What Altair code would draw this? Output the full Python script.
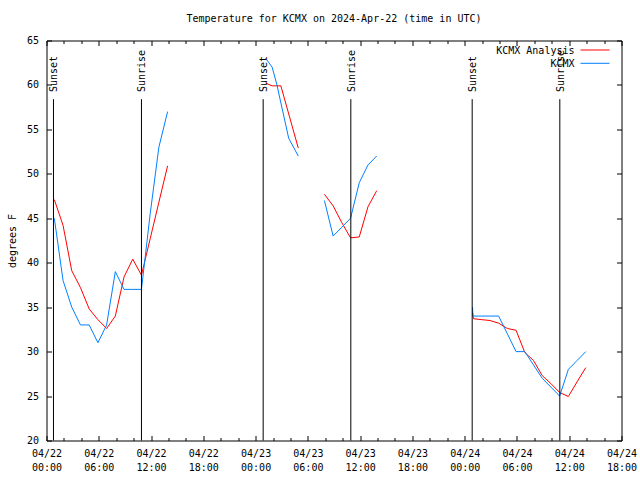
import altair as alt
import pandas as pd

FONT = "DejaVu Sans Mono"

# ---------------- data (hours since 2024-04-22 00:00 UTC, degrees F) ----------------
ana_hours_1 = [0.9, 1.9, 2.9, 3.9, 4.9, 5.9, 6.9, 7.9, 8.9, 9.9, 10.9, 11.9, 12.9, 13.9]
ana_temps_1 = [47.1, 44.2, 39.1, 37.2, 34.8, 33.6, 32.6, 34.0, 38.4, 40.4, 38.6, 42.7, 46.8, 50.9]
ana_hours_2 = [25.15, 25.9, 26.9, 27.9, 28.9]
ana_temps_2 = [60.2, 59.9, 59.9, 56.4, 52.9]
ana_hours_3 = [31.9, 32.9, 33.9, 34.9, 35.9, 36.9, 37.9]
ana_temps_3 = [47.7, 46.4, 44.5, 42.8, 42.9, 46.3, 48.1]
ana_hours_4 = [48.9, 49.0, 49.9, 50.9, 51.9, 52.9, 53.9, 54.9, 55.9, 56.9, 57.9, 58.9, 59.9, 60.9, 61.9]
ana_temps_4 = [34.4, 33.7, 33.6, 33.5, 33.2, 32.6, 32.4, 29.9, 29.0, 27.3, 26.4, 25.4, 24.95, 26.6, 28.2]

obs_hours_1 = [0.9, 1.9, 2.9, 3.9, 4.9, 5.9, 6.9, 7.9, 8.9, 9.9, 10.9, 11.9, 12.9, 13.9]
obs_temps_1 = [45, 38, 35, 33, 33, 31, 33, 39, 37, 37, 37, 45.5, 53, 57]
obs_hours_2 = [25.15, 25.9, 26.45, 27.8, 28.9]
obs_temps_2 = [63, 62, 60, 54, 52]
obs_hours_3 = [31.9, 32.9, 33.9, 34.9, 35.9, 36.9, 37.9]
obs_temps_3 = [47, 43, 44, 45, 49, 51, 52]
obs_hours_4 = [48.9, 48.95, 49.9, 50.9, 51.9, 52.9, 53.9, 54.9, 55.9, 56.9, 57.9, 58.9, 59.9, 60.9, 61.9]
obs_temps_4 = [35, 34, 34, 34, 34, 32, 30, 30, 28.5, 27, 26, 25, 28, 29, 30]

event_hours = [0.8, 10.9, 24.87, 34.93, 48.86, 58.92]
event_names = ["Sunset", "Sunrise", "Sunset", "Sunrise", "Sunset", "Sunrise"]

legend_labels = ["KCMX Analysis", "KCMX"]
series_colors = ["#ff0000", "#0080ff"]

x_major = list(range(0, 67, 6))
x_minor = [v for v in range(0, 67, 2) if v % 6]
y_ticks = list(range(20, 66, 5))

title_text = "Temperature for KCMX on 2024-Apr-22 (time in UTC)"
y_title = "degrees F"


def long(segs):
    rows = []
    for i, (hs, ts) in enumerate(segs):
        for h, t in zip(hs, ts):
            rows.append({"hour": h, "temp": t, "seg": i})
    return pd.DataFrame(rows)


ana_df = long([(ana_hours_1, ana_temps_1), (ana_hours_2, ana_temps_2),
               (ana_hours_3, ana_temps_3), (ana_hours_4, ana_temps_4)])
obs_df = long([(obs_hours_1, obs_temps_1), (obs_hours_2, obs_temps_2),
               (obs_hours_3, obs_temps_3), (obs_hours_4, obs_temps_4)])
ev_df = pd.DataFrame({"hour": event_hours, "name": event_names})

xs = alt.Scale(domain=[0, 66], nice=False, zero=False)
ys = alt.Scale(domain=[20, 65], nice=False, zero=False)

MAJ = 5
MIN = 3

label_expr = ("['04/' + (22 + floor(datum.value / 24)), "
              "(datum.value % 24 < 10 ? '0' : '') + (datum.value % 24) + ':00']")

ax_bottom = alt.Axis(orient="bottom", values=x_major, tickSize=MAJ, offset=-MAJ,
                     domain=False, grid=False, labelExpr=label_expr, labelFlush=False,
                     labelPadding=8, labelLineHeight=14, labelAngle=0,
                     labelBaseline="top", labelOverlap=False, title=None)
ax_bottom_minor = alt.Axis(orient="bottom", values=x_minor, tickSize=MIN, offset=-MIN,
                           domain=False, grid=False, labels=False, title=None)
ax_top = alt.Axis(orient="top", values=x_major, tickSize=MAJ, offset=-MAJ,
                  domain=False, grid=False, labels=False, title=None)
ax_top_minor = alt.Axis(orient="top", values=x_minor, tickSize=MIN, offset=-MIN,
                        domain=False, grid=False, labels=False, title=None)
ax_left = alt.Axis(orient="left", values=y_ticks, tickSize=MAJ, offset=-MAJ,
                   domain=False, grid=False, labelPadding=8, title=y_title,
                   titlePadding=9)
ax_right = alt.Axis(orient="right", values=y_ticks, tickSize=MAJ, offset=-MAJ,
                    domain=False, grid=False, labels=False, title=None)

red = alt.Chart(ana_df).mark_line(color=series_colors[0], strokeWidth=1).encode(
    x=alt.X("hour:Q", scale=xs, axis=ax_bottom),
    y=alt.Y("temp:Q", scale=ys, axis=ax_left),
    detail="seg:N",
)
blue = alt.Chart(obs_df).mark_line(color=series_colors[1], strokeWidth=1).encode(
    x=alt.X("hour:Q", scale=xs, axis=ax_bottom_minor),
    y=alt.Y("temp:Q", scale=ys, axis=ax_right),
    detail="seg:N",
)
rules = alt.Chart(ev_df).mark_rule(color="black", strokeWidth=1).encode(
    x=alt.X("hour:Q", scale=xs, axis=ax_top),
    y=alt.YDatum(20, scale=ys, axis=None),
    y2=alt.Y2Datum(58.4),
)
ev_text = alt.Chart(ev_df).mark_text(
    angle=270, align="left", baseline="middle", dy=1,
    font=FONT, fontSize=10, color="black",
).encode(
    x=alt.X("hour:Q", scale=xs, axis=ax_top_minor),
    y=alt.YDatum(59.2, scale=ys, axis=None),
    text="name:N",
)

leg_layers = []
for i, (lab, col) in enumerate(zip(legend_labels, series_colors)):
    d = pd.DataFrame({"label": [lab]})
    ypix = 10 + 13.3 * i
    leg_layers.append(
        alt.Chart(d).mark_text(align="right", baseline="middle", font=FONT,
                               fontSize=10, color="black").encode(
            x=alt.value(528), y=alt.value(ypix), text="label:N")
    )
    leg_layers.append(
        alt.Chart(d).mark_rule(color=col, strokeWidth=1).encode(
            x=alt.value(534), x2=alt.value(563), y=alt.value(ypix - 0.5))
    )

chart = alt.layer(red, blue, rules, ev_text, *leg_layers).resolve_axis(
    x="independent", y="independent"
).properties(
    width=575,
    height=400,
    autosize="none",
    padding={"left": 46.5, "top": 40.5, "right": 18, "bottom": 39},
    background="white",
    title=alt.Title(title_text, font=FONT, fontSize=10, fontWeight="normal",
                    color="black", anchor="middle", offset=12),
).configure_view(
    stroke="black", strokeWidth=1
).configure_axis(
    tickColor="black", tickWidth=1, labelColor="black", labelFont=FONT,
    labelFontSize=10, titleFont=FONT, titleFontSize=10, titleFontWeight="normal",
    titleColor="black",
)

chart.save("out.html", embed_options={"renderer": "svg", "actions": False})
